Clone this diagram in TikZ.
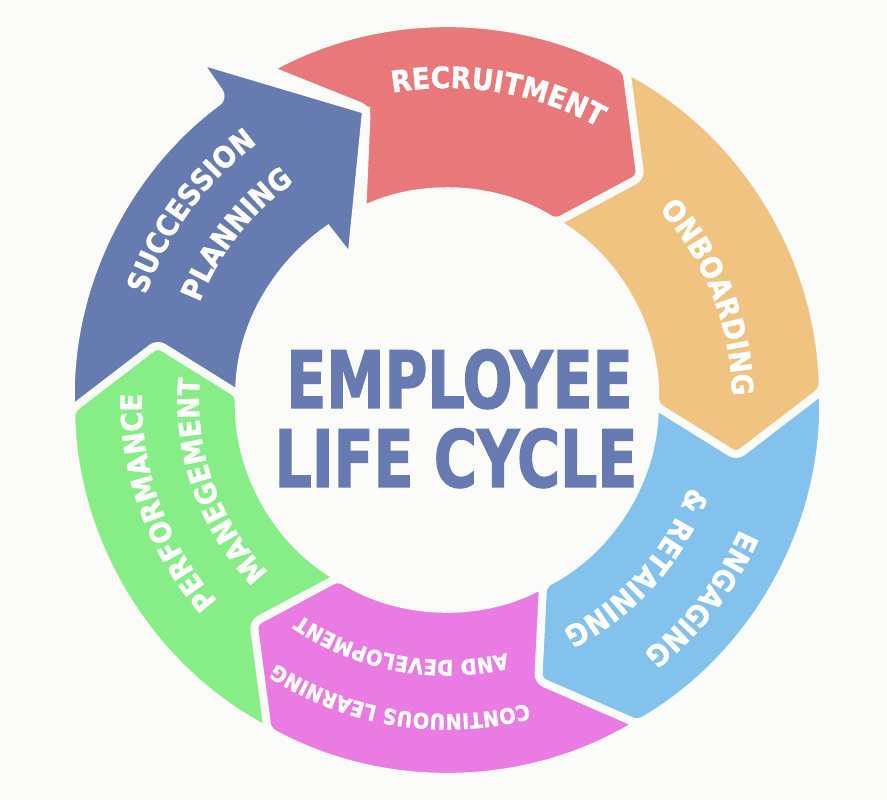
\documentclass[tikz,border=0pt]{standalone}
\usepackage{fontspec}
\setmainfont{DejaVu Sans}
\newfontfamily\titlefont{DejaVu Sans Bold}[FakeStretch=0.74, FakeBold=1.6]
\newfontfamily\lblfont{DejaVu Sans Bold}[FakeStretch=0.9, FakeBold=1.2]
\usetikzlibrary{decorations.text}

\definecolor{bgcol}{RGB}{251,251,249}
\definecolor{recruitcol}{RGB}{232,120,122}
\definecolor{onboardcol}{RGB}{240,196,128}
\definecolor{engagecol}{RGB}{130,194,236}
\definecolor{learncol}{RGB}{233,123,226}
\definecolor{perfcol}{RGB}{135,238,135}
\definecolor{succcol}{RGB}{102,124,176}
\definecolor{titlecol}{RGB}{103,123,178}

\newcommand{\biglbl}{\color{white}\lblfont\fontsize{16.8}{17}\selectfont}
\newcommand{\smalllbl}{\color{white}\lblfont\fontsize{12.2}{12}\selectfont}

\begin{document}
\begin{tikzpicture}[
            x = 0.02cm, y = 0.02cm, % one unit = one pixel of the sketch
            seg/.style = {draw = bgcol, line width = 4.5pt, rounded corners = 4pt}, % ring piece
            ringtext/.style = {decorate, decoration = {text along path, text align = center, text = {#1}}},
            title/.style = {font = \titlefont\fontsize{45}{45}\selectfont, text = titlecol, inner sep = 0pt, anchor = base}
        ]

        \fill[bgcol] (-447,-400) rectangle (440,400);
        \useasboundingbox (-447,-400) rectangle (440,400);

        % ring pieces, clockwise
        \path[seg, fill = recruitcol] (118.4:376) arc[start angle = 118.4, end angle = 61.5, radius = 376]
            -- (49:295) -- (58.5:208) arc[start angle = 58.5, end angle = 114, radius = 208] -- (105.4:302) -- cycle;
        \path[seg, fill = onboardcol] (61.5:376) arc[start angle = 61.5, end angle = 1.5, radius = 376]
            -- (-11:295) -- (-1.5:208) arc[start angle = -1.5, end angle = 58.5, radius = 208] -- (49:295) -- cycle;
        \path[seg, fill = engagecol] (1.5:376) arc[start angle = 1.5, end angle = -59.5, radius = 376]
            -- (-72:295) -- (-62.5:208) arc[start angle = -62.5, end angle = -1.5, radius = 208] -- (-11:295) -- cycle;
        \path[seg, fill = learncol] (-59.5:376) arc[start angle = -59.5, end angle = -118.5, radius = 376]
            -- (-131:295) -- (-121.5:208) arc[start angle = -121.5, end angle = -62.5, radius = 208] -- (-72:295) -- cycle;
        \path[seg, fill = perfcol] (-118.5:376) arc[start angle = -118.5, end angle = -178.5, radius = 376]
            -- (-191:295) -- (-181.5:208) arc[start angle = -181.5, end angle = -121.5, radius = 208] -- (-131:295) -- cycle;
        \path[seg, fill = succcol] (181.5:376) arc[start angle = 181.5, end angle = 126.5, radius = 376]
            [sharp corners] -- (126.3:422) -- (105.6:301) -- (124.3:170) -- (125:208)
            [rounded corners = 4pt] arc[start angle = 125, end angle = 178.5, radius = 208] -- (169:295) -- cycle;

        % labels along the ring
        \path[ringtext = {|\biglbl|RECRUITMENT}] (140.5:312) arc[start angle = 140.5, end angle = 20.5, radius = 312];
        \path[ringtext = {|\biglbl|ONBOARDING}] (81.4:285) arc[start angle = 81.4, end angle = -38.6, radius = 285];
        \path[ringtext = {|\biglbl|ENGAGING}] (22:320) arc[start angle = 22, end angle = -98, radius = 320];
        \path[ringtext = {|\biglbl|{\&} RETAINING}] (18.5:257) arc[start angle = 18.5, end angle = -101.5, radius = 257];
        \path[ringtext = {|\smalllbl|CONTINUOUS LEARNING}] (-39:314) arc[start angle = -39, end angle = -159, radius = 314];
        \path[ringtext = {|\smalllbl|AND DEVELOPMENT}] (-40.5:260) arc[start angle = -40.5, end angle = -160.5, radius = 260];
        \path[ringtext = {|\biglbl|PERFORMANCE}] (-100:305) arc[start angle = -100, end angle = -220, radius = 305];
        \path[ringtext = {|\biglbl|MANEGEMENT}] (-100.5:248) arc[start angle = -100.5, end angle = -220.5, radius = 248];
        \path[ringtext = {|\biglbl|SUCCESSION}] (203.6:319) arc[start angle = 203.6, end angle = 83.6, radius = 319];
        \path[ringtext = {|\biglbl|PLANNING}] (201.8:266) arc[start angle = 201.8, end angle = 81.8, radius = 266];

        % title in the middle
        \node (employee) [title] at (12.5,-8) {EMPLOYEE};
        \node (lifecycle) [title] at (9,-87) {LIFE CYCLE};

\end{tikzpicture}
\end{document}
